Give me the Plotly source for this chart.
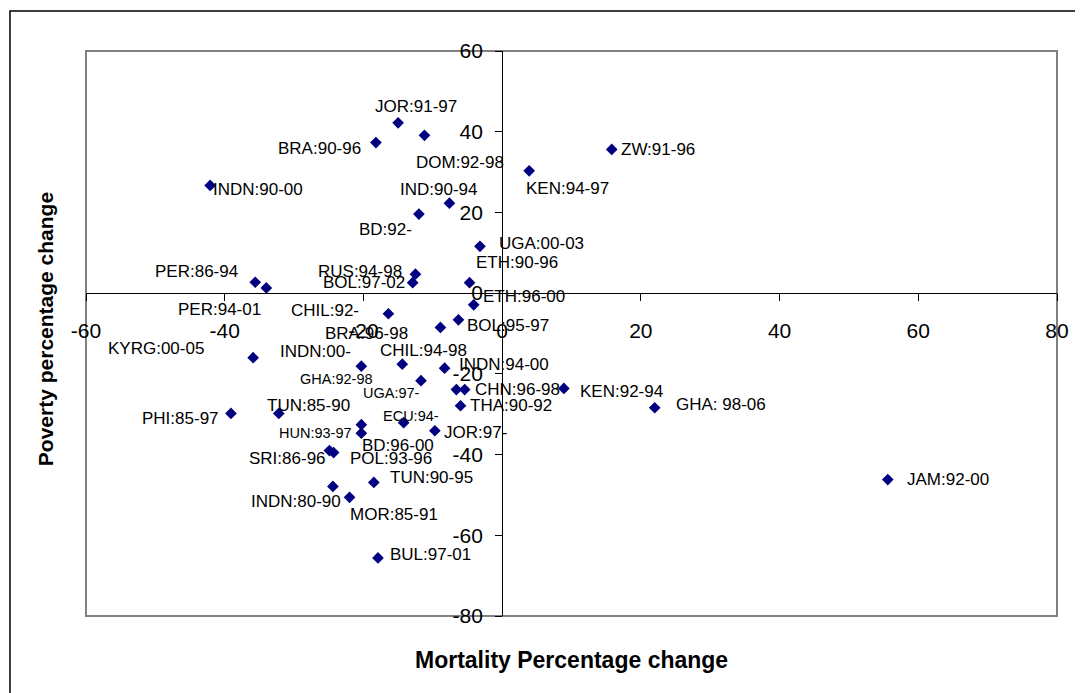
import plotly.graph_objects as go

# ---------------- data ----------------
labels = [
    "JOR:91-97", "DOM:92-98", "BRA:90-96", "INDN:90-00", "IND:90-94", "BD:92-",
    "UGA:00-03", "ETH:90-96", "PER:86-94", "PER:94-01", "RUS:94-98", "BOL:97-02",
    "ETH:96-00", "CHIL:92-", "BOL:95-97", "BRA:96-98", "KYRG:00-05", "INDN:00-",
    "CHIL:94-98", "INDN:94-00", "GHA:92-98", "UGA:97-", "CHN:96-98", "THA:90-92",
    "PHI:85-97", "TUN:85-90", "ECU:94-", "HUN:93-97", "BD:96-00", "JOR:97-",
    "SRI:86-96", "POL:93-96", "TUN:90-95", "INDN:80-90", "MOR:85-91", "BUL:97-01",
    "ZW:91-96", "KEN:94-97", "KEN:92-94", "GHA: 98-06", "JAM:92-00",
]
mortality = [
    -15.0, -11.2, -18.2, -42.1, -7.6, -12.0,
    -3.2, -4.7, -35.6, -34.0, -12.5, -12.9,
    -4.1, -16.4, -6.3, -8.9, -35.9, -20.3,
    -14.4, -8.3, -6.6, -11.7, -5.4, -6.0,
    -39.1, -32.2, -14.2, -20.3, -20.3, -9.7,
    -24.9, -24.3, -18.5, -24.4, -22.0, -17.9,
    15.8, 3.9, 8.9, 22.0, 55.6,
]
poverty = [
    42.2, 39.1, 37.3, 26.7, 22.3, 19.6,
    11.6, 2.6, 2.7, 1.3, 4.7, 2.6,
    -2.9, -5.1, -6.6, -8.5, -16.0, -18.1,
    -17.6, -18.6, -23.9, -21.7, -23.9, -27.9,
    -29.8, -29.8, -32.1, -32.6, -34.7, -34.1,
    -39.0, -39.5, -46.9, -47.9, -50.6, -65.6,
    35.6, 30.3, -23.6, -28.4, -46.2,
]
x_ticks = [-60, -40, -20, 0, 20, 40, 60, 80]
y_ticks = [-80, -60, -40, -20, 0, 20, 40, 60]

# ---------------- label placement (style) ----------------
label_anchor = [
    "center", "left", "right", "left", "right", "right",
    "left", "left", "right", "right", "right", "right",
    "left", "right", "left", "right", "right", "right",
    "left", "left", "right", "right", "left", "left",
    "right", "left", "left", "right", "left", "left",
    "right", "left", "left", "right", "left", "left",
    "left", "left", "left", "left", "left",
]
label_dx = [
    18, -10, -13, 1, 30, -5,
    17, 4, -15, -3, -11, -6,
    7, -27, 7, -30, -47, -8,
    -24, 12, -81, 1, 8, 7,
    -10, -14, -23, -7, -1, 7,
    -1, 14, 14, 10, -2, 10,
    7, -5, 14, 19, 17,
]
label_dy = [
    -16, 27, 6, 4, -14, 15,
    -3, -20, -11, 22, -3, 0,
    -8, -3, 6, 6, -9, -15,
    -14, -4, -11, 12, 0, 0,
    5, -8, -7, 8, 12, 2,
    8, 6, -5, 15, 17, -3,
    0, 18, 3, -3, 0,
]
small_labels = {"GHA:92-98", "UGA:97-", "ECU:94-", "HUN:93-97"}

FONT = "Liberation Sans, Arial, sans-serif"
NAVY = "#000080"

fig = go.Figure()
fig.add_trace(go.Scatter(
    x=mortality, y=poverty, mode="markers",
    marker=dict(symbol="diamond", size=9, color=NAVY, line=dict(width=0)),
    hoverinfo="text", text=labels, showlegend=False,
))

annotations = []
for name, mx, py, anc, dx, dy in zip(labels, mortality, poverty, label_anchor, label_dx, label_dy):
    annotations.append(dict(
        x=mx, y=py, xref="x", yref="y", text=name, showarrow=False,
        xanchor=anc, yanchor="middle", xshift=dx, yshift=-dy,
        font=dict(family=FONT, size=14.5 if name in small_labels else 17, color="black"),
    ))

annotations.append(dict(
    x=0.4995, y=-0.078, xref="paper", yref="paper", text="<b>Mortality Percentage change</b>",
    showarrow=False, xanchor="center", yanchor="middle",
    font=dict(family=FONT, size=23, color="black"),
))
annotations.append(dict(
    x=-0.041, y=0.508, xref="paper", yref="paper", text="<b>Poverty percentage change</b>",
    showarrow=False, xanchor="center", yanchor="middle", textangle=-90,
    font=dict(family=FONT, size=21, color="black"),
))

shapes = [
    # plot-area border
    dict(type="rect", xref="paper", yref="paper", x0=0, y0=0, x1=1, y1=1,
         line=dict(color="#808080", width=2), layer="below"),
    # outer chart border
    dict(type="rect", xref="paper", yref="paper", x0=-0.0783, y0=-0.25, x1=1.2, y1=1.0708,
         line=dict(color="black", width=1.5), layer="below"),
]

# the page adds an 8px body margin, so the figure is 8px smaller and margins shifted
fig.update_layout(
    width=1075, height=685,
    margin=dict(l=78, r=26, t=43, b=77),
    paper_bgcolor="white", plot_bgcolor="white",
    annotations=annotations, shapes=shapes,
    xaxis=dict(
        range=[-60, 80], tickvals=x_ticks, ticktext=[str(v) for v in x_ticks],
        anchor="free", position=80 / 140,
        showgrid=False, zeroline=False, showline=True, linecolor="black", linewidth=1,
        ticks="outside", ticklen=7, tickcolor="black", tickwidth=1,
        tickfont=dict(family=FONT, size=21, color="black"), ticklabelstandoff=12,
    ),
    yaxis=dict(
        range=[-80, 60], tickvals=y_ticks, ticktext=[str(v) for v in y_ticks],
        anchor="free", position=60 / 140,
        showgrid=False, zeroline=False, showline=True, linecolor="black", linewidth=1,
        ticks="outside", ticklen=7, tickcolor="black", tickwidth=1,
        tickfont=dict(family=FONT, size=21, color="black"), ticklabelstandoff=8,
    ),
)

fig.write_html("out.html")
